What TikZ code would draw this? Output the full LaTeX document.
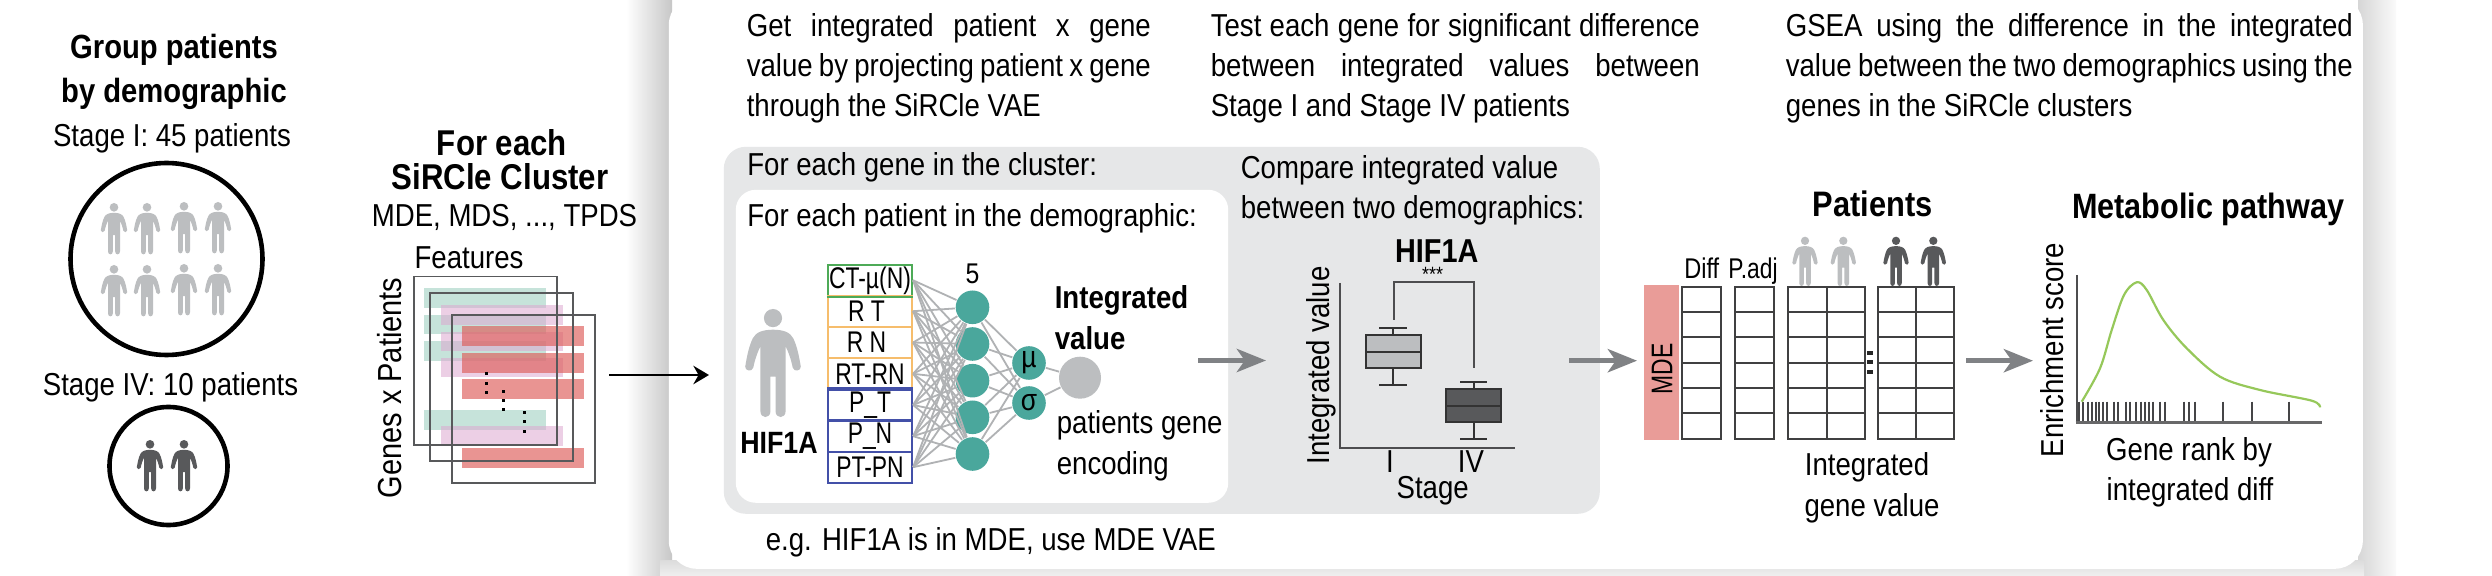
\documentclass[tikz,border=0pt]{standalone}
\usepackage{fontspec}
\setmainfont[FakeStretch=0.87]{Liberation Sans}
\usetikzlibrary{arrows.meta,shadings}
\definecolor{lightp}{HTML}{BCBEC0}
\definecolor{darkp}{HTML}{58595B}
\definecolor{panelg}{HTML}{E6E7E8}
\definecolor{frameg}{HTML}{58595B}
\definecolor{arrg}{HTML}{808285}
\definecolor{teal}{HTML}{4AA79C}
\definecolor{netg}{HTML}{B0B2B4}
\definecolor{barg}{HTML}{8FC9B6}
\definecolor{barp}{HTML}{DDA8D0}
\definecolor{barr}{HTML}{DE5C58}
\definecolor{mdec}{HTML}{E99C98}
\definecolor{ingreen}{HTML}{4DAA57}
\definecolor{inorange}{HTML}{F6BD6C}
\definecolor{inblue}{HTML}{4350A8}
\definecolor{curve}{HTML}{96C85A}
\definecolor{axisg}{HTML}{4D4D4F}
\definecolor{cellg}{HTML}{404041}
\newcommand{\jl}[2]{\makebox[#1][s]{#2}}
\newcommand{\cond}[1]{\scalebox{0.88}[1]{#1}}
\newcommand{\fz}[2]{\fontsize{\fpeval{#1/0.87}}{#2}\selectfont}
\tikzset{
  x=0.25pt,y=-0.25pt,
  txt/.style={inner sep=0pt,anchor=mid,font=\fz{6.9}{8}},
  txtl/.style={txt,anchor=mid west},
  bld/.style={inner sep=0pt,anchor=mid,font=\fz{#1}{8}\bfseries},
  bldl/.style={bld=#1,anchor=mid west},
  block/.style={inner sep=0pt,anchor=north west,align=left,font=\fz{6.9}{10}},
  frame/.style={draw=frameg,line width=.4pt},
  barG/.style={fill=barg,fill opacity=.5},
  barP/.style={fill=barp,fill opacity=.55},
  barR/.style={fill=barr,fill opacity=.65},
  inbox/.style={draw=#1,line width=.55pt,fill=white,inner sep=0pt,minimum width=21pt,minimum height=7.75pt,font=\fz{6.5}{8}},
  neuron/.style={circle,fill=teal,inner sep=0pt,minimum size=8.4pt,font=\fz{6.6}{8}},
  netline/.style={draw=netg,line width=.45pt},
  bigarrow/.style={draw=arrg,line width=1.2pt,-{Stealth[length=7.3pt,width=5.8pt,inset=2pt]}},
  axisline/.style={draw=axisg,line width=.45pt},
  boxplot/.style={draw=black!80,line width=.5pt},
  cell/.style={draw=cellg,line width=.45pt,fill=white},
  rtick/.style={draw=axisg!90!black,line width=.45pt},
  person/.pic={
    \path[pic actions] (0,9) circle[radius=9];
    \path[pic actions] (0,20.5) .. controls (-10,20.5) and (-17,23) .. (-20,29)
      .. controls (-24,37) and (-26,48) .. (-27.5,57)
      .. controls (-28,61) and (-21,63) .. (-19.5,58)
      .. controls (-18,50) and (-15,42) .. (-12.5,37)
      -- (-12.5,101) .. controls (-12.5,109) and (-2.5,109) .. (-2.5,101)
      -- (-2.5,67) -- (2.5,67) -- (2.5,101)
      .. controls (2.5,109) and (12.5,109) .. (12.5,101)
      -- (12.5,37) .. controls (15,42) and (18,50) .. (19.5,58)
      .. controls (21,63) and (28,61) .. (27.5,57)
      .. controls (26,48) and (24,37) .. (20,29)
      .. controls (17,23) and (10,20.5) .. (0,20.5) -- cycle;
  }
}
\begin{document}
\begin{tikzpicture}
\useasboundingbox (0,0) rectangle (2492,576);
\clip (0,0) rectangle (2492,576);
\fill[white] (0,0) rectangle (2492,576);
% card shadow
\shade[left color=white,right color=black!22] (626,-5) rectangle (672,590);
\shade[left color=black!16,right color=black!2] (2358,-5) rectangle (2396,590);
\shade[top color=black!14,bottom color=black!4] (660,560) rectangle (2364,580);
\node[fill=white,rounded corners=7pt,minimum width=423.5pt,minimum height=143pt,inner sep=0pt,anchor=north west] (card) at (668,-4) {};
% left column
\node[bld=7.3] (t1) at (174,48) {Group patients};
\node[bld=7.3] (t2) at (174,92) {by demographic};
\node[txt] (s1) at (172,136) {Stage I: 45 patients};
\node[txt] (s4) at (170.5,385) {Stage IV: 10 patients};
\draw[line width=1.15pt] (166.5,259) circle[radius=96];
\draw[line width=1.15pt] (168.5,466) circle[radius=59];
\foreach \px/\py in {114/203,147/203,184/202,218/202,114/265,147/265,184/264,218/264}
  \pic[fill=lightp,scale=.48] at (\px,\py) {person};
\foreach \px in {150,184}
  \pic[fill=darkp,scale=.48] at (\px,440) {person};
% cluster column
\node[bld=7.8] (c1) at (502,145) {For each};
\node[bld=7.8] (c2) at (500,179) {SiRCle Cluster};
\node[txt] (c3) at (504.5,216) {MDE, MDS, ..., TPDS};
\node[txt] (c4) at (469,258) {Features};
\node[txt,rotate=90,font=\fz{7.25}{8}] (c5) at (391,388) {Genes x Patients};
\foreach \ya/\yb in {288/308,315/334.5,341/361,410/430} \fill[barG] (424,\ya) rectangle (546,\yb);
\foreach \ya/\yb in {305/325,332/351.5,358.5/377.5,426.5/446} \fill[barP] (441,\ya) rectangle (563,\yb);
\foreach \ya/\yb in {326/346,353/373,379/399,448/468} \fill[barR] (462,\ya) rectangle (584,\yb);
\draw[frame] (414,276.5) rectangle (557,445);
\draw[frame] (430,293) rectangle (573,461);
\draw[frame] (452,315) rectangle (595,483);
\foreach \dx/\dy in {486.6/374,486.6/384,486.6/393,503/392,503/401,503/410,524.5/412.5,524.5/422,524.5/432}
  \fill[black] (\dx-1.5,\dy-1.5) rectangle (\dx+1.5,\dy+1.5);
\coordinate (a1s) at (609,375);
\coordinate (a1e) at (709,375);
\draw[black,line width=.6pt,-{Stealth[length=3.9pt,width=4.6pt,inset=1.3pt]}] (a1s) -- (a1e);
% top texts
\node[block] (g1) at (746,13) {\jl{101pt}{Get integrated patient x gene}\\\jl{101pt}{value by projecting patient x gene}\\through the SiRCle VAE};
\node[block] (g2) at (1210,13) {\jl{122.25pt}{Test each gene for significant difference}\\\jl{122.25pt}{between integrated values between}\\Stage I and Stage IV patients};
\node[block] (g3) at (1785,13) {\jl{141.75pt}{GSEA using the difference in the integrated}\\\jl{141.75pt}{value between the two demographics using the}\\genes in the SiRCle clusters};
% grey panel and white inner
\node[fill=panelg,rounded corners=5.5pt,minimum width=219pt,minimum height=91.75pt,inner sep=0pt,anchor=north west] (panel) at (723,146) {};
\node[fill=white,rounded corners=5pt,minimum width=123.1pt,minimum height=78.25pt,inner sep=0pt,anchor=north west] (inner) at (735,189) {};
\node[txtl] (p1) at (746.5,165) {For each gene in the cluster:};
\node[txtl] (p2) at (746.5,216) {For each patient in the demographic:};
\node[txtl] (eg) at (765,540) {e.g. HIF1A is in MDE, use MDE VAE};
% patient and VAE
\pic[fill=lightp,scale=1.01] at (773,309) {person};
\node[bld=6.7] (hif) at (779,442.7) {HIF1A};
\node[inbox=ingreen] (in1) at (870,280.3) {\cond{CT-µ(N)}};
\node[inbox=inorange] (in2) at (870,311.2) {\cond{R T\hspace{2pt}}};
\node[inbox=inorange] (in3) at (870,342.5) {\cond{R N\hspace{2pt}}};
\node[inbox=inorange] (in4) at (870,373.8) {\cond{RT-RN}};
\node[inbox=inblue] (in5) at (870,405) {\cond{P\_T}};
\node[inbox=inblue] (in6) at (870,436.2) {\cond{P\_N}};
\node[inbox=inblue] (in7) at (870,467.2) {\cond{PT-PN}};
\draw[ingreen,line width=.55pt] (in1.south west) -- (in1.south east);
\draw[inblue,line width=.55pt] (in5.north west) -- (in5.north east);
\node[neuron] (h1) at (972.5,307.3) {};
\node[neuron] (h2) at (972.5,344) {};
\node[neuron] (h3) at (972.5,380.7) {};
\node[neuron] (h4) at (972.5,417.3) {};
\node[neuron] (h5) at (972.5,454) {};
\node[neuron] (mu) at (1029,363) {µ};
\node[neuron] (sg) at (1029,403) {σ};
\node[circle,fill=lightp,inner sep=0pt,minimum size=10.5pt] (out) at (1080,377.7) {};
\foreach \i in {1,...,7} \foreach \j in {1,...,5} \draw[netline] (in\i.east) -- (h\j);
\foreach \j in {1,...,5} {\draw[netline] (h\j) -- (mu); \draw[netline] (h\j) -- (sg);}
\draw[netline] (mu) -- (out);
\draw[netline] (sg) -- (out);
\node[txt,font=\fz{6.2}{8}] (five) at (972.5,272.7) {5};
\node[bldl=6.9] (iv1) at (1054,298) {Integrated};
\node[bldl=6.9] (iv2) at (1054,339) {value};
\node[txtl] (pg1) at (1056,423) {patients gene};
\node[txtl] (pg2) at (1056,464) {encoding};
\coordinate (a2s) at (1198,360.5);
\coordinate (a2e) at (1266,360.5);
\draw[bigarrow] (a2s) -- (a2e);
% compare panel
\node[txtl] (cm1) at (1240,167.7) {Compare integrated value};
\node[txtl] (cm2) at (1240,208) {between two demographics:};
\node[bld=7.2] (hf2) at (1436.7,251.7) {HIF1A};
\node[txt,font=\fz{4.5}{5}] (stars) at (1432.7,271) {***};
\node[txt,rotate=90] (yl) at (1319,365.5) {Integrated value};
\draw[axisline] (1340,283) -- (1340,447.7) -- (1515,447.7);
\draw[axisline] (1393.7,320) -- (1393.7,282.3) -- (1474.3,282.3) -- (1474.3,367.7);
% box I
\draw[boxplot] (1393,328.3) -- (1393,385) (1379.3,328.3) -- (1406.7,328.3) (1379.3,385) -- (1406.7,385);
\draw[boxplot,fill=lightp] (1366,335) rectangle (1420.7,368);
\draw[boxplot] (1366,351.7) -- (1420.7,351.7);
% box IV
\draw[boxplot] (1473.7,382) -- (1473.7,439) (1460,382) -- (1487.3,382) (1460,439) -- (1487.3,439);
\draw[boxplot,fill=darkp] (1446,389) rectangle (1501,422);
\draw[boxplot] (1446,406) -- (1501,406);
\node[txt] (sI) at (1390,462) {I};
\node[txt] (sIV) at (1471,462) {IV};
\node[txt] (sx) at (1432.7,488) {Stage};
\coordinate (a3s) at (1569,360.7);
\coordinate (a3e) at (1637,360.7);
\draw[bigarrow] (a3s) -- (a3e);
% table
\node[fill=mdec,inner sep=0pt,minimum width=8.65pt,minimum height=38.7pt] (mde) at (1661.7,362.7) {};
\node[txt,rotate=90,font=\fz{6.5}{8}] (mdet) at (1661.7,369) {\cond{MDE}};
\foreach \xa/\xb in {1682/1720.7,1735.3/1774,1788/1826.7,1826.7/1865,1877.7/1915.7,1915.7/1954}
  \foreach \ya/\yb in {287.3/312.3,312.3/337.3,337.3/362.7,362.7/387.7,387.7/413.3,413.3/438.7}
    \draw[cell] (\xa,\ya) rectangle (\xb,\yb);
\foreach \dy in {352.7,361.7,371.7} \fill[black!85] (1867,\dy-2) rectangle (1873,\dy+2);
\node[txt,font=\fz{6.2}{8}] (dif) at (1701.7,268.3) {\scalebox{.95}[1]{Diff}};
\node[txt,font=\fz{6.2}{8}] (pad) at (1753,268.3) {\scalebox{.92}[1]{P.adj}};
\node[bld=7.7] (pat) at (1872.7,206) {Patients};
\foreach \px in {1805,1843.3} \pic[fill=lightp,scale=.46] at (\px,236.7) {person};
\foreach \px in {1896,1933.3} \pic[fill=darkp,scale=.46] at (\px,236.7) {person};
\node[txt] (ig1) at (1867,465) {Integrated};
\node[txt] (ig2) at (1872,506) {gene value};
\coordinate (a4s) at (1966,360.7);
\coordinate (a4e) at (2033,360.7);
\draw[bigarrow] (a4s) -- (a4e);
% GSEA plot
\node[bld=7.65] (mp) at (2208,208) {Metabolic pathway};
\node[txt,rotate=90] (es) at (2052.7,350) {Enrichment score};
\node[txt] (gr1) at (2189,450) {Gene rank by};
\node[txt] (gr2) at (2190,490) {integrated diff};
\draw[draw=axisg,line width=.4pt] (2076.7,275) -- (2076.7,423);
\foreach \v in {238,250,263,275,287,297,308,320,342,355,378,390,407,423,435,447,460,480,495,552,567,585,670,757,866}
  \draw[rtick] ({2000+\v/3},401.7) -- ({2000+\v/3},422);
\draw[draw=axisg!85,line width=.8pt] (2075.5,422.3) -- (2321.7,422.3);
\draw[curve,line width=.55pt] plot[smooth,tension=.55] coordinates {(2081.7,401.7) (2100,368.3) (2111.7,330) (2124,295) (2136.7,282.3) (2146.7,290) (2163.3,320) (2186.7,348.3) (2220,376.7) (2260,390) (2311.7,400.7) (2320,407.3)};
\end{tikzpicture}
\end{document}
